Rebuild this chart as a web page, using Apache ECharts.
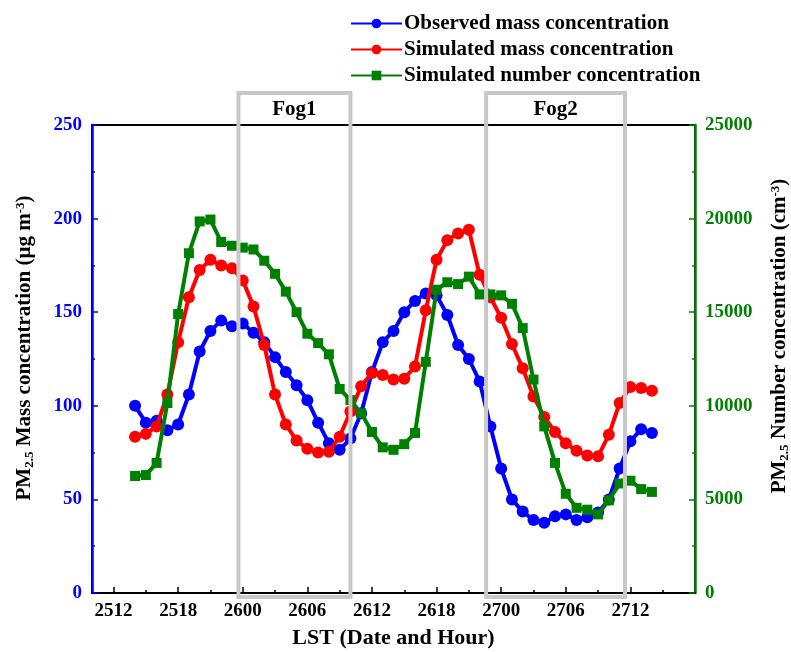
<!DOCTYPE html>
<html>
<head>
<meta charset="utf-8">
<script src="https://cdn.jsdelivr.net/npm/echarts@6/dist/echarts.min.js"></script>
<style>
html,body{margin:0;padding:0;background:#fff;}
#c{width:791px;height:652px;}
</style>
</head>
<body>
<div id="c"></div>
<script>
// Time stamps (DDHH, LST)
var times = ['2514','2515','2516','2517','2518','2519','2520','2521','2522','2523',
  '2600','2601','2602','2603','2604','2605','2606','2607','2608','2609','2610','2611',
  '2612','2613','2614','2615','2616','2617','2618','2619','2620','2621','2622','2623',
  '2700','2701','2702','2703','2704','2705','2706','2707','2708','2709','2710','2711',
  '2712','2713','2714'];
// Observed PM2.5 mass concentration (ug m-3)
var observedMass = [100,91,92,87,90,106,129,140,145.5,142.5,
  144,139,134,126,118,111,103,91,80,76.5,82.5,96,
  118,134,140,150,156,160,159,148.5,132.5,125,113,89,
  66.5,50,43.5,39,37.5,41,42,39,40.5,43,50,66.5,
  81,87.5,85.5];
// Simulated PM2.5 mass concentration (ug m-3)
var simulatedMass = [83.5,85,89,106,134,158,172.5,178,175,173.5,
  167,153,132.5,106,90,81.5,77,75,75.5,83.5,97,110.5,
  117.5,116.5,114,114.5,121,151,178,188.5,192,194,170,158,
  147,133,120,105,94,86,80,76,73.5,73,84.5,101.5,
  110,109.5,108];
// Simulated PM2.5 number concentration (cm-3)
var simulatedNumber = [6250,6300,6950,10150,14900,18150,19850,19950,18750,18550,
  18450,18350,17750,17050,16100,15000,13850,13350,12750,10900,10300,9600,
  8600,7780,7650,7950,8550,12350,16200,16600,16500,16900,15950,15950,
  15900,15450,14150,11400,8900,6950,5300,4550,4450,4200,4950,5850,
  6000,5550,5400];
// x tick labels
var xMajorLabels = ['2512','2518','2600','2606','2612','2618','2700','2706','2712'];
var xMinorLabels = ['2515','2521','2603','2609','2615','2621','2703','2709','2715'];
var xRange = ['2510','2718'];
// Fog periods (DDHH with fractional hour)
var fogNames = ['Fog1','Fog2'];
var fogStart = ['2523.6','2622.6'];
var fogEnd = ['2610.0','2711.5'];

function toHour(s){
  var day = parseInt(s.slice(0,2),10);
  var hr = parseFloat(s.slice(2));
  return (day-25)*24 + hr;
}
function toLabel(v){
  var day = 25 + Math.floor(v/24);
  var hr = Math.round(v - (day-25)*24);
  return String(day) + (hr<10?'0':'') + hr;
}
function pairs(arr){ return times.map(function(t,i){ return [toHour(t), arr[i]]; }); }

var FONT = '"Liberation Serif","Times New Roman",serif';
var chart = echarts.init(document.getElementById('c'), null, {renderer:'canvas'});
var xmin = toHour(xRange[0]), xmax = toHour(xRange[1]);

function richName(){
  return {
    b:{fontFamily:FONT,fontWeight:'bold',fontSize:21,color:'#000'},
    s:{fontFamily:FONT,fontWeight:'bold',fontSize:13,color:'#000',verticalAlign:'bottom',padding:[9,0,0,0]},
    p:{fontFamily:FONT,fontWeight:'bold',fontSize:13,color:'#000',verticalAlign:'top',padding:[0,0,9,0]}
  };
}

var option = {
  animation:false,
  backgroundColor:'#fff',
  grid:{left:92,right:96,top:125,bottom:59,show:true,borderColor:'#000',borderWidth:2,
    backgroundColor:'transparent',containLabel:false,outerBoundsMode:'none'},
  legend:{
    orient:'vertical', left:345, top:8, itemWidth:51, itemHeight:12, itemGap:5,
    textStyle:{fontFamily:FONT,fontWeight:'bold',fontSize:21,color:'#000',padding:[0,0,0,-3]},
    data:['Observed mass concentration','Simulated mass concentration','Simulated number concentration']
  },
  xAxis:[{
    type:'value', min:xmin, max:xmax,
    name:'LST (Date and Hour)', nameLocation:'middle', nameGap:34,
    nameTextStyle:{fontFamily:FONT,fontWeight:'bold',fontSize:22,color:'#000'},
    axisLine:{show:true,onZero:false,lineStyle:{color:'#000',width:2}},
    axisTick:{show:true,inside:true,length:6,lineStyle:{color:'#000',width:1.5},customValues:xMajorLabels.map(toHour)},
    axisLabel:{show:true,margin:9,fontFamily:FONT,fontWeight:'bold',fontSize:19,color:'#000',
      customValues:xMajorLabels.map(toHour), formatter:function(v){return toLabel(v);}},
    splitLine:{show:false}
  },{
    type:'value', min:xmin, max:xmax, position:'bottom',
    axisLine:{show:false},
    axisTick:{show:true,inside:true,length:3,lineStyle:{color:'#000',width:1.5},customValues:xMinorLabels.map(toHour)},
    axisLabel:{show:false},
    splitLine:{show:false}
  }],
  yAxis:[{
    type:'value', min:0, max:250, interval:50, position:'left',
    name:'{b|PM}{s|2.5}{b| Mass concentration (μg m}{p|-3}{b|)}',
    nameLocation:'middle', nameGap:56, nameRotate:90,
    nameTextStyle:{padding:[0,0,0,22], rich:richName()},
    axisLine:{show:true,lineStyle:{color:'#0000ff',width:2.5}},
    axisTick:{show:true,inside:true,length:6,lineStyle:{color:'#0000ff',width:1.5}},
    minorTick:{show:true,splitNumber:2,length:3,lineStyle:{color:'#0000ff',width:1.5}},
    axisLabel:{margin:10,fontFamily:FONT,fontWeight:'bold',fontSize:19,color:'#0000ff'},
    splitLine:{show:false}
  },{
    type:'value', min:0, max:25000, interval:5000, position:'right',
    name:'{b|PM}{s|2.5}{b| Number concentration (cm}{p|-3}{b|)}',
    nameLocation:'middle', nameGap:74, nameRotate:90,
    nameTextStyle:{padding:[0,0,0,46], rich:richName()},
    axisLine:{show:true,lineStyle:{color:'#008000',width:2.5}},
    axisTick:{show:true,inside:true,length:6,lineStyle:{color:'#008000',width:1.5}},
    minorTick:{show:true,splitNumber:2,length:3,lineStyle:{color:'#008000',width:1.5}},
    axisLabel:{margin:10,fontFamily:FONT,fontWeight:'bold',fontSize:19,color:'#008000',
      formatter:function(v){return String(v);}},
    splitLine:{show:false}
  }],
  series:[{
    name:'Observed mass concentration', type:'line', yAxisIndex:0,
    data:pairs(observedMass), symbol:'circle', symbolSize:12,
    itemStyle:{color:'#0000ff'}, lineStyle:{color:'#0000ff',width:4}, z:3
  },{
    name:'Simulated mass concentration', type:'line', yAxisIndex:0,
    data:pairs(simulatedMass), symbol:'circle', symbolSize:12,
    itemStyle:{color:'#ff0000'}, lineStyle:{color:'#ff0000',width:4}, z:4
  },{
    name:'Simulated number concentration', type:'line', yAxisIndex:1,
    data:pairs(simulatedNumber), symbol:'rect', symbolSize:10,
    itemStyle:{color:'#008000'}, lineStyle:{color:'#008000',width:4}, z:5
  }]
};
chart.setOption(option);

// Fog period boxes (annotations), positioned through the axis scales
var yTop = chart.convertToPixel({yAxisIndex:0}, 250);
var yBot = chart.convertToPixel({yAxisIndex:0}, 0);
var gfx = [];
fogNames.forEach(function(n,i){
  var x1 = chart.convertToPixel({xAxisIndex:0}, toHour(fogStart[i]));
  var x2 = chart.convertToPixel({xAxisIndex:0}, toHour(fogEnd[i]));
  gfx.push({type:'rect', z:100, silent:true,
    shape:{x:x1, y:yTop-32, width:x2-x1, height:(yBot+4)-(yTop-32)},
    style:{fill:null, stroke:'#c8c8c8', lineWidth:4}});
  gfx.push({type:'text', z:101, silent:true,
    style:{text:n, x:(x1+x2)/2, y:yTop-15, align:'center', verticalAlign:'middle',
      font:'bold 21px '+FONT, fill:'#000'}});
});
chart.setOption({graphic:gfx});
</script>
</body>
</html>
